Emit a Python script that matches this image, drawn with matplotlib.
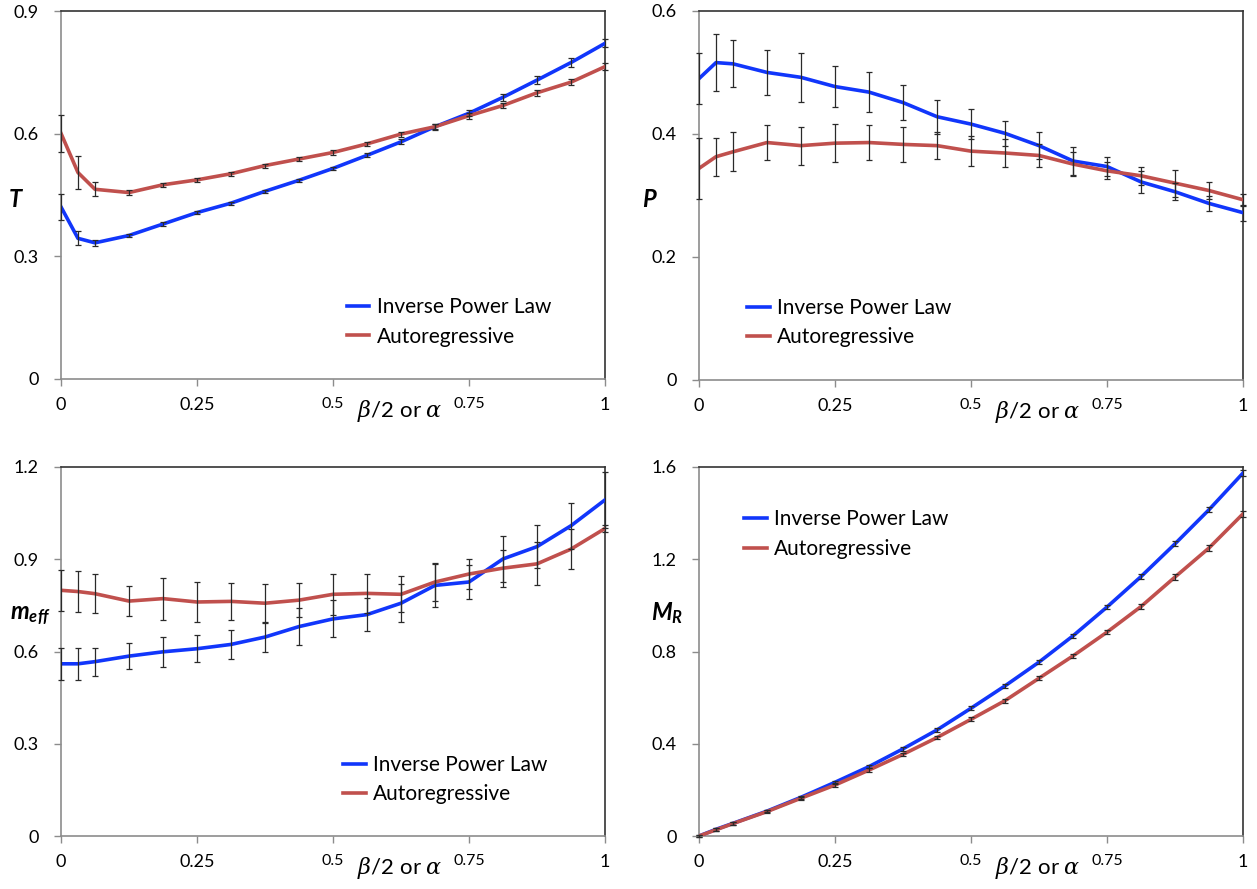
import matplotlib
matplotlib.use('Agg')
import matplotlib.pyplot as plt

plt.rcParams['font.family'] = ['Lato', 'DejaVu Sans']
plt.rcParams['mathtext.fontset'] = 'custom'
plt.rcParams['mathtext.rm'] = 'Lato'
plt.rcParams['mathtext.it'] = 'DejaVu Serif:italic'
plt.rcParams['mathtext.bfit'] = 'Lato:italic:bold'

# beta/2 or alpha
x = [0.0, 0.03125, 0.0625, 0.125, 0.1875, 0.25, 0.3125, 0.375, 0.4375,
     0.5, 0.5625, 0.625, 0.6875, 0.75, 0.8125, 0.875, 0.9375, 1.0]

T_ipl = [0.421, 0.344, 0.333, 0.351, 0.379, 0.407, 0.430, 0.459, 0.486,
         0.515, 0.547, 0.580, 0.617, 0.650, 0.689, 0.731, 0.774, 0.821]
T_ar = [0.601, 0.505, 0.464, 0.456, 0.475, 0.487, 0.502, 0.522, 0.538,
        0.554, 0.575, 0.599, 0.617, 0.644, 0.669, 0.700, 0.726, 0.764]
T_ipl_err = [0.031, 0.017, 0.008, 0.004, 0.004, 0.004, 0.004, 0.004, 0.004,
             0.004, 0.005, 0.006, 0.007, 0.007, 0.008, 0.009, 0.010, 0.010]
T_ar_err = [0.045, 0.040, 0.017, 0.006, 0.005, 0.005, 0.005, 0.005, 0.005,
            0.005, 0.005, 0.006, 0.006, 0.007, 0.007, 0.007, 0.008, 0.008]

P_ipl = [0.490, 0.516, 0.514, 0.500, 0.492, 0.477, 0.468, 0.451, 0.428,
         0.416, 0.401, 0.381, 0.356, 0.347, 0.322, 0.306, 0.287, 0.272]
P_ar = [0.344, 0.363, 0.371, 0.386, 0.381, 0.385, 0.386, 0.383, 0.381,
        0.372, 0.369, 0.365, 0.351, 0.340, 0.332, 0.320, 0.308, 0.293]
P_ipl_err = [0.041, 0.046, 0.038, 0.037, 0.040, 0.033, 0.033, 0.028, 0.028,
             0.024, 0.020, 0.022, 0.022, 0.015, 0.018, 0.014, 0.012, 0.013]
P_ar_err = [0.050, 0.031, 0.032, 0.029, 0.031, 0.031, 0.028, 0.028, 0.022,
            0.024, 0.022, 0.019, 0.020, 0.014, 0.015, 0.022, 0.014, 0.010]

meff_ipl = [0.560, 0.560, 0.567, 0.585, 0.599, 0.609, 0.623, 0.647, 0.681,
            0.706, 0.720, 0.757, 0.815, 0.826, 0.901, 0.941, 1.009, 1.093]
meff_ar = [0.799, 0.795, 0.788, 0.764, 0.772, 0.761, 0.763, 0.757, 0.767,
           0.786, 0.789, 0.786, 0.826, 0.852, 0.871, 0.885, 0.933, 1.000]
meff_ipl_err = [0.052, 0.053, 0.046, 0.043, 0.048, 0.044, 0.048, 0.048, 0.060,
                0.060, 0.054, 0.062, 0.070, 0.055, 0.075, 0.070, 0.075, 0.090]
meff_ar_err = [0.066, 0.066, 0.064, 0.049, 0.068, 0.065, 0.060, 0.063, 0.055,
               0.067, 0.063, 0.059, 0.061, 0.050, 0.060, 0.070, 0.065, 0.010]

MR_ipl = [0.0, 0.029, 0.055, 0.108, 0.168, 0.233, 0.301, 0.378, 0.460,
          0.554, 0.651, 0.754, 0.868, 0.993, 1.125, 1.267, 1.415, 1.574]
MR_ar = [0.0, 0.027, 0.054, 0.106, 0.164, 0.221, 0.286, 0.354, 0.427,
         0.506, 0.587, 0.684, 0.781, 0.884, 0.995, 1.123, 1.249, 1.397]
MR_ipl_err = [0.004, 0.006, 0.006, 0.006, 0.007, 0.007, 0.007, 0.008, 0.008,
              0.008, 0.009, 0.009, 0.010, 0.010, 0.011, 0.011, 0.012, 0.013]
MR_ar_err = [0.004, 0.006, 0.006, 0.006, 0.007, 0.007, 0.007, 0.008, 0.008,
             0.008, 0.009, 0.009, 0.010, 0.010, 0.011, 0.011, 0.012, 0.013]

xticks = [0, 0.25, 0.5, 0.75, 1]
xticklabels = ['0', '0.25', '0.5', '0.75', '1']
labels = ['Inverse Power Law', 'Autoregressive']

BLUE = '#1136fb'
RED = '#c0504d'

fig = plt.figure(figsize=(12.57, 8.89), dpi=100)

# [left, bottom, width, height], ylim, yticks, ylabel, label pos, legend anchor, data
panels = [
    ([0.0485, 0.5737, 0.4328, 0.4139], 0.9, [0, 0.3, 0.6, 0.9], r'$\mathbfit{T}$', (0.013, 0.775),
     (0.525, 0.222), T_ipl, T_ipl_err, T_ar, T_ar_err),
    ([0.5561, 0.5726, 0.4328, 0.4151], 0.6, [0, 0.2, 0.4, 0.6], r'$\mathbfit{P}$', (0.517, 0.775),
     (0.088, 0.222), P_ipl, P_ipl_err, P_ar, P_ar_err),
    ([0.0485, 0.0596, 0.4328, 0.4151], 1.2, [0, 0.3, 0.6, 0.9, 1.2], r'$\mathbfit{m}_{\mathbfit{eff}}$', (0.024, 0.307),
     (0.518, 0.22), meff_ipl, meff_ipl_err, meff_ar, meff_ar_err),
    ([0.5561, 0.0596, 0.4328, 0.4151], 1.6, [0, 0.4, 0.8, 1.2, 1.6], r'$\mathbfit{M}_{\mathbfit{R}}$', (0.531, 0.31),
     (0.082, 0.885), MR_ipl, MR_ipl_err, MR_ar, MR_ar_err),
]

for rect, ymax, yticks, ylab, labpos, legpos, yb, eb, yr, er in panels:
    ax = fig.add_axes(rect)
    lb, = ax.plot(x, yb, color=BLUE, lw=2.6, solid_joinstyle='round', zorder=3)
    lr, = ax.plot(x, yr, color=RED, lw=2.6, solid_joinstyle='round', zorder=3)
    ax.errorbar(x, yb, yerr=eb, fmt='none', ecolor='#2a2a2a', elinewidth=0.9,
                capsize=2.5, capthick=0.9, zorder=4, clip_on=False)
    ax.errorbar(x, yr, yerr=er, fmt='none', ecolor='#2a2a2a', elinewidth=0.9,
                capsize=2.5, capthick=0.9, zorder=4, clip_on=False)
    ax.set_xlim(0, 1)
    ax.set_ylim(0, ymax)
    ax.set_xticks(xticks)
    ax.set_xticklabels(xticklabels)
    ax.set_yticks(yticks)
    ax.set_yticklabels([('%g' % t) for t in yticks])
    ax.tick_params(direction='out', length=5, width=1, color='#8c8c8c',
                   labelsize=13)
    ax.tick_params(axis='y', pad=11)
    ax.tick_params(axis='x', pad=8)
    # the two middle x labels are a little smaller, as in the original
    for t in ax.get_xticklabels():
        if t.get_text() in ('0.5', '0.75'):
            t.set_fontsize(11.5)
    for s in ['left', 'bottom']:
        ax.spines[s].set_color('#8c8c8c')
        ax.spines[s].set_linewidth(1.2)
    for s in ['top', 'right']:
        ax.spines[s].set_color('#333333')
        ax.spines[s].set_linewidth(1.2)
    fig.text(labpos[0], labpos[1], ylab, fontsize=17, ha='center', va='center')
    ax.text(0.622, -0.087, r'$\beta/2\;\mathrm{or}\;\alpha$', transform=ax.transAxes,
            fontsize=16, ha='center', va='center')
    ax.legend([lb, lr], labels, loc='upper left', bbox_to_anchor=legpos,
              frameon=False, fontsize=15, handlelength=1.1, handletextpad=0.35,
              labelspacing=0.45, borderpad=0, borderaxespad=0)

fig.savefig('out.png', dpi=100)
